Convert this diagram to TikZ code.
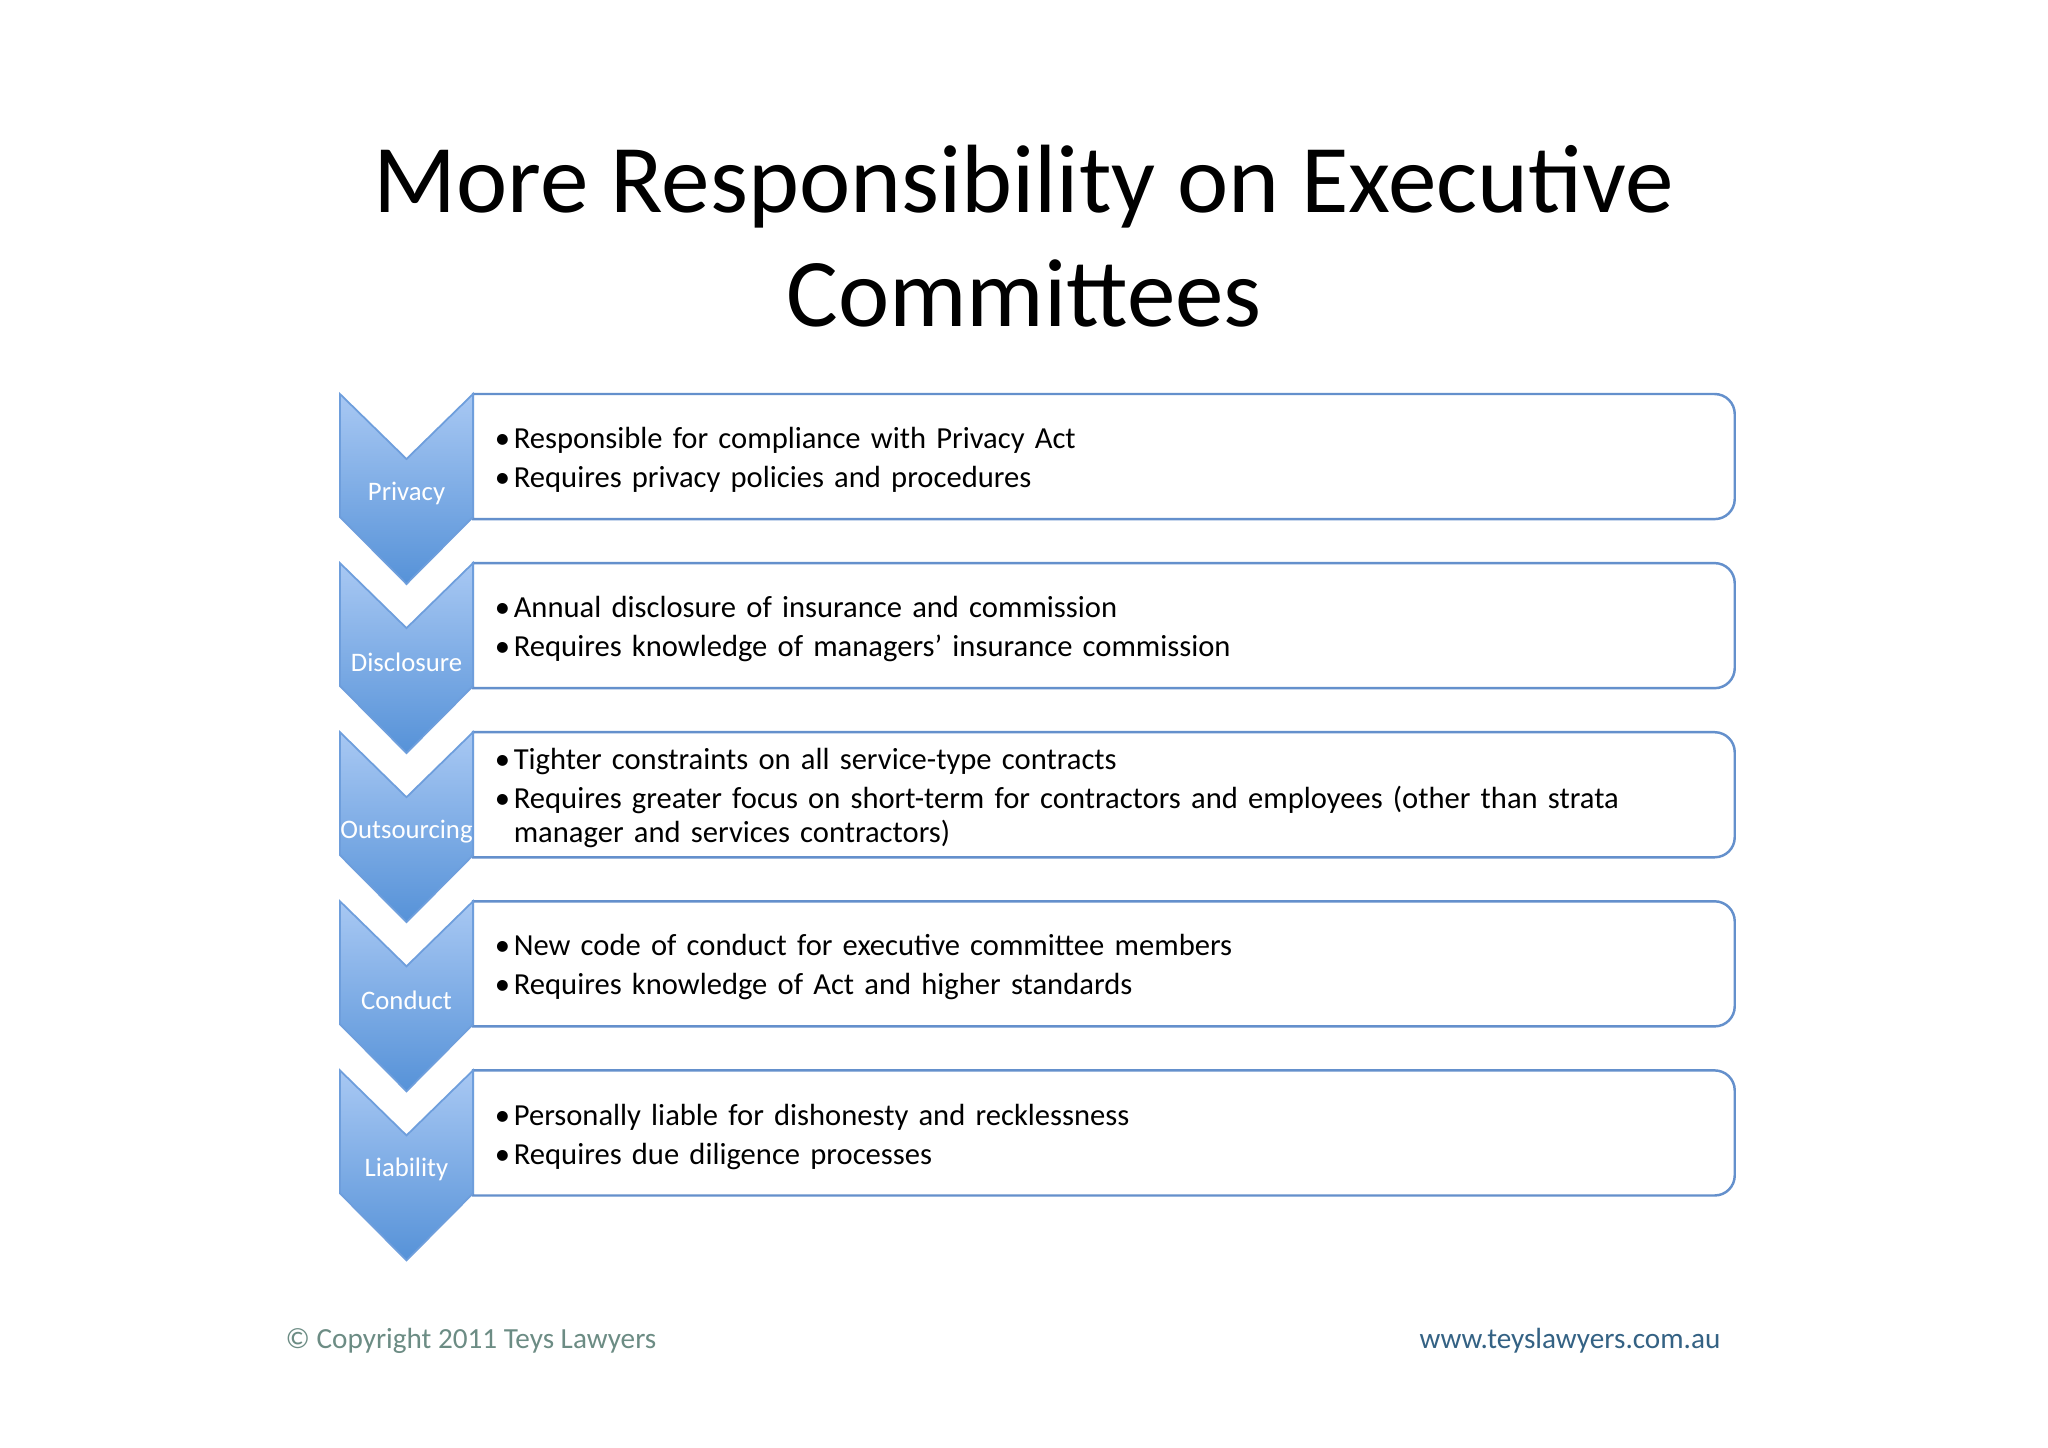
\documentclass[tikz,border=0pt]{standalone}
\usepackage{fontspec}
\setmainfont{Carlito}
\usetikzlibrary{positioning}
\definecolor{chevtop}{RGB}{168,200,243}
\definecolor{chevbot}{RGB}{86,146,216}
\definecolor{chevline}{RGB}{110,158,220}
\definecolor{boxline}{RGB}{100,144,204}
\definecolor{copygreen}{RGB}{108,140,132}
\definecolor{urlblue}{RGB}{52,98,132}
\newcommand{\bitem}[1]{\par\noindent\makebox[5.4pt][l]{•}#1}
\tikzset{itembox/.style={inner sep=0pt,outer sep=0pt,minimum width=12.61cm,minimum height=1.25cm},
	 boxborder/.style={draw=boxline,line width=0.7pt,fill=white},
	 chev/.style={draw=chevline,line width=0.5pt,top color=chevtop,bottom color=chevbot},
	 chevlabel/.style={text=white,font=\fontsize{7.6}{9}\selectfont},
	 itemtext/.style={inner sep=0pt,text width=12.2cm,align=left,
	   font=\fontsize{8.7}{9.7}\selectfont,execute at begin node=\setlength{\parskip}{1.4pt}},
	 foot/.style={inner sep=0pt,font=\fontsize{8.3}{10}\selectfont},
	 node distance = 0.44cm
	 }

\begin{document}
\begin{tikzpicture}[x=0.01cm,y=0.01cm] % vertical chevron list
	\useasboundingbox[fill=white] (0,0) rectangle (2048,-1447);
	\node[font=\fontsize{27.6}{32.4}\selectfont,align=center] (title) at (1024,-236) {More Responsibility on Executive\\Committees};

	\node[itembox,anchor=north west] (b1) at (473,-394) {};
	\node[itembox] (b2) [below=of b1] {};
	\node[itembox] (b3) [below=of b2] {};
	\node[itembox] (b4) [below=of b3] {};
	\node[itembox] (b5) [below=of b4] {};

	% boxes: square on the left, rounded on the right
	\draw[boxborder] (b1.north west) -- ([xshift=-5.7pt]b1.north east) arc[start angle=90,end angle=0,radius=5.7pt] -- ([yshift=5.7pt]b1.south east) arc[start angle=0,end angle=-90,radius=5.7pt] -- (b1.south west) -- cycle;
	\draw[boxborder] (b2.north west) -- ([xshift=-5.7pt]b2.north east) arc[start angle=90,end angle=0,radius=5.7pt] -- ([yshift=5.7pt]b2.south east) arc[start angle=0,end angle=-90,radius=5.7pt] -- (b2.south west) -- cycle;
	\draw[boxborder] (b3.north west) -- ([xshift=-5.7pt]b3.north east) arc[start angle=90,end angle=0,radius=5.7pt] -- ([yshift=5.7pt]b3.south east) arc[start angle=0,end angle=-90,radius=5.7pt] -- (b3.south west) -- cycle;
	\draw[boxborder] (b4.north west) -- ([xshift=-5.7pt]b4.north east) arc[start angle=90,end angle=0,radius=5.7pt] -- ([yshift=5.7pt]b4.south east) arc[start angle=0,end angle=-90,radius=5.7pt] -- (b4.south west) -- cycle;
	\draw[boxborder] (b5.north west) -- ([xshift=-5.7pt]b5.north east) arc[start angle=90,end angle=0,radius=5.7pt] -- ([yshift=5.7pt]b5.south east) arc[start angle=0,end angle=-90,radius=5.7pt] -- (b5.south west) -- cycle;

	% chevrons
	\draw[chev] (b1.north west) -- ++(-66.5,-65) -- ++(-66.5,65) -- ++(0,-123) -- ++(66.5,-67) -- ++(66.5,67) -- cycle;
	\draw[chev] (b2.north west) -- ++(-66.5,-65) -- ++(-66.5,65) -- ++(0,-123) -- ++(66.5,-67) -- ++(66.5,67) -- cycle;
	\draw[chev] (b3.north west) -- ++(-66.5,-65) -- ++(-66.5,65) -- ++(0,-123) -- ++(66.5,-67) -- ++(66.5,67) -- cycle;
	\draw[chev] (b4.north west) -- ++(-66.5,-65) -- ++(-66.5,65) -- ++(0,-123) -- ++(66.5,-67) -- ++(66.5,67) -- cycle;
	\draw[chev] (b5.north west) -- ++(-66.5,-65) -- ++(-66.5,65) -- ++(0,-123) -- ++(66.5,-67) -- ++(66.5,67) -- cycle;

	\path (b1.north west) ++(-66.5,-99) node[chevlabel] (c1) {Privacy};
	\path (b2.north west) ++(-66.5,-99) node[chevlabel] (c2) {Disclosure};
	\path (b3.north west) ++(-66.5,-99) node[chevlabel] (c3) {Outsourcing};
	\path (b4.north west) ++(-66.5,-99) node[chevlabel] (c4) {Conduct};
	\path (b5.north west) ++(-66.5,-99) node[chevlabel] (c5) {Liability};

	\node[itemtext,anchor=west] (t1) [right=6pt of b1.west,yshift=1.5pt] {\bitem{Responsible for compliance with Privacy Act}\bitem{Requires privacy policies and procedures}};
	\node[itemtext,anchor=west] (t2) [right=6pt of b2.west,yshift=1.5pt] {\bitem{Annual disclosure of insurance and commission}\bitem{Requires knowledge of managers’ insurance commission}};
	\node[itemtext,anchor=west] (t3) [right=6pt of b3.west,yshift=1.5pt] {\bitem{Tighter constraints on all service-type contracts}\bitem{Requires greater focus on short-term for contractors and employees (other than strata\break\hspace*{5.4pt}manager and services contractors)}};
	\node[itemtext,anchor=west] (t4) [right=6pt of b4.west,yshift=1.5pt] {\bitem{New code of conduct for executive committee members}\bitem{Requires knowledge of Act and higher standards}};
	\node[itemtext,anchor=west] (t5) [right=6pt of b5.west,yshift=1.5pt] {\bitem{Personally liable for dishonesty and recklessness}\bitem{Requires due diligence processes}};

	\node[foot,anchor=west,text=copygreen] (copy) at (285,-1341) {© Copyright 2011 Teys Lawyers};
	\node[foot,anchor=east,text=urlblue] (url) at (1721,-1341) {www.teyslawyers.com.au};
\end{tikzpicture}
\end{document}
